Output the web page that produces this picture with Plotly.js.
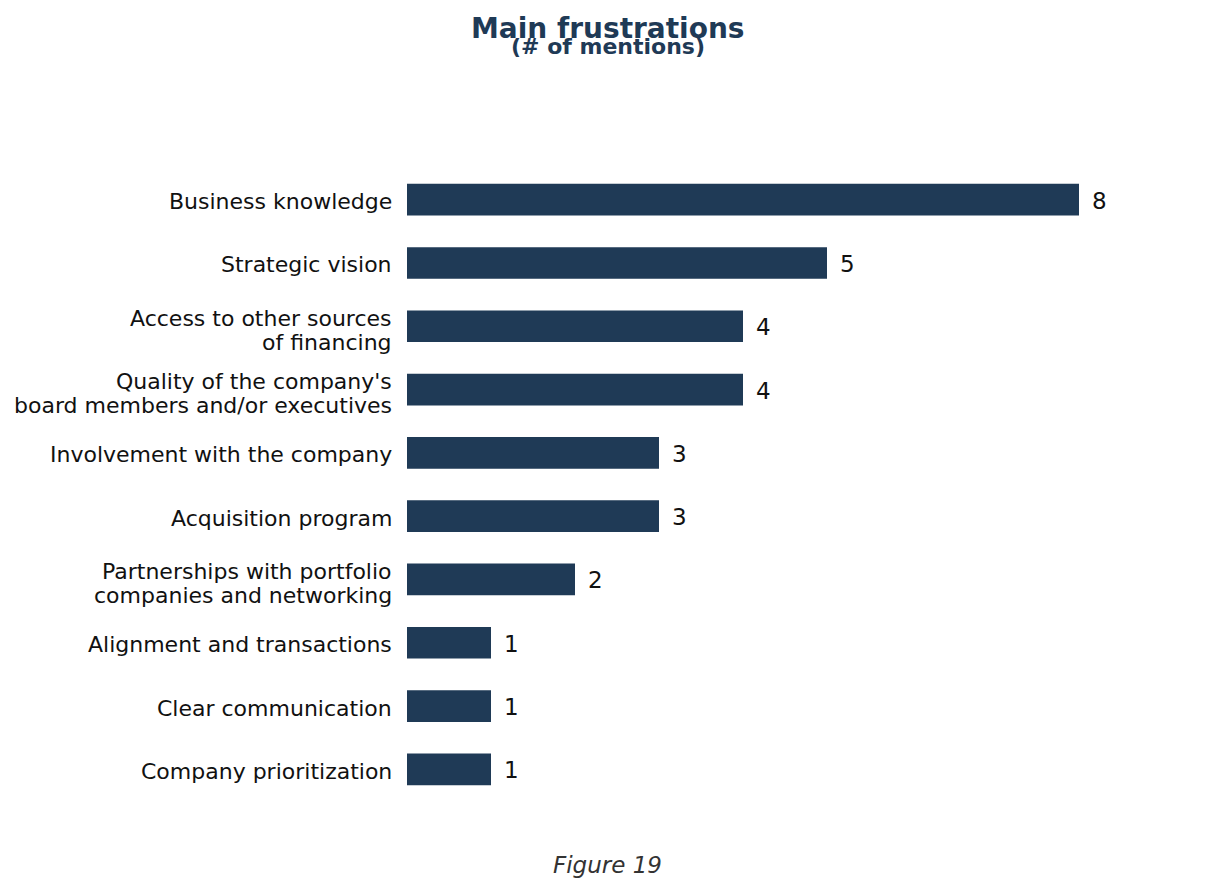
<!DOCTYPE html>
<html>
<head>
<meta charset="utf-8">
<script src="https://cdn.plot.ly/plotly-3.0.1.min.js"></script>
<style>html,body{margin:0;padding:0;background:#fff;}#chart{width:1215px;height:891px;}</style>
</head>
<body>
<div id="chart"></div>
<script>
const categories = [
  "Business knowledge",
  "Strategic vision",
  "Access to other sources<br>of financing",
  "Quality of the company's<br>board members and/or executives",
  "Involvement with the company",
  "Acquisition program",
  "Partnerships with portfolio<br>companies and networking",
  "Alignment and transactions",
  "Clear communication",
  "Company prioritization"
];
const mentions = [8, 5, 4, 4, 3, 3, 2, 1, 1, 1];
const titleText = "Main frustrations";
const subtitleText = "(# of mentions)";
const captionText = "Figure 19";

const barColor = "#1f3a56";
const font = "DejaVu Sans, sans-serif";

const trace = {
  type: "bar",
  orientation: "h",
  x: mentions,
  y: categories,
  marker: {color: barColor},
  hoverinfo: "none"
};

const annotations = [];
// value labels
mentions.forEach((v, i) => annotations.push({
  x: v, y: categories[i], xref: "x", yref: "y",
  text: String(v), showarrow: false, xanchor: "left", xshift: 11, yshift: -1,
  font: {family: font, size: 23, color: "#111"}
}));
// category labels (one annotation per line for tight line spacing)
categories.forEach((c) => {
  const lines = c.split("<br>");
  lines.forEach((ln, j) => {
    const shift = lines.length === 1 ? -2 : (j === 0 ? 8 : -16);
    annotations.push({
      x: 0, y: c, xref: "x", yref: "y", text: ln, showarrow: false,
      xanchor: "right", yanchor: "middle", xshift: -13, yshift: shift,
      font: {family: font, size: 22, color: "#111"}
    });
  });
});

const layout = {
  width: 1215, height: 891,
  paper_bgcolor: "#fff", plot_bgcolor: "#fff",
  margin: {l: 407, r: 52, t: 168, b: 90},
  showlegend: false,
  bargap: 0.5,
  font: {family: font, color: "#111"},
  xaxis: {range: [0, 9], showgrid: false, zeroline: false, showticklabels: false, showline: false, ticks: ""},
  yaxis: {autorange: "reversed", showgrid: false, zeroline: false, showline: false, ticks: "",
          showticklabels: false},
  annotations: annotations
};

const plotH = 891 - 168 - 90;
function yPaper(px) { return (891 - 90 - px) / plotH; }
const pageCenterShift = 1215/2 - (407 + (1215 - 407 - 52)/2);
annotations.push({xref: "paper", yref: "paper", x: 0.5, y: yPaper(28), xanchor: "center", yanchor: "middle",
  text: "<b>" + titleText + "</b>", showarrow: false, xshift: pageCenterShift,
  font: {family: font, size: 28, color: barColor}});
annotations.push({xref: "paper", yref: "paper", x: 0.5, y: yPaper(47), xanchor: "center", yanchor: "middle",
  text: "<b>" + subtitleText + "</b>", showarrow: false, xshift: pageCenterShift,
  font: {family: font, size: 22, color: barColor}});
annotations.push({xref: "paper", yref: "paper", x: 0.5, y: yPaper(865), xanchor: "center", yanchor: "middle",
  text: "<i>" + captionText + "</i>", showarrow: false, xshift: pageCenterShift,
  font: {family: font, size: 23, color: "#333"}});

Plotly.newPlot("chart", [trace], layout, {displayModeBar: false, staticPlot: true});
</script>
</body>
</html>
